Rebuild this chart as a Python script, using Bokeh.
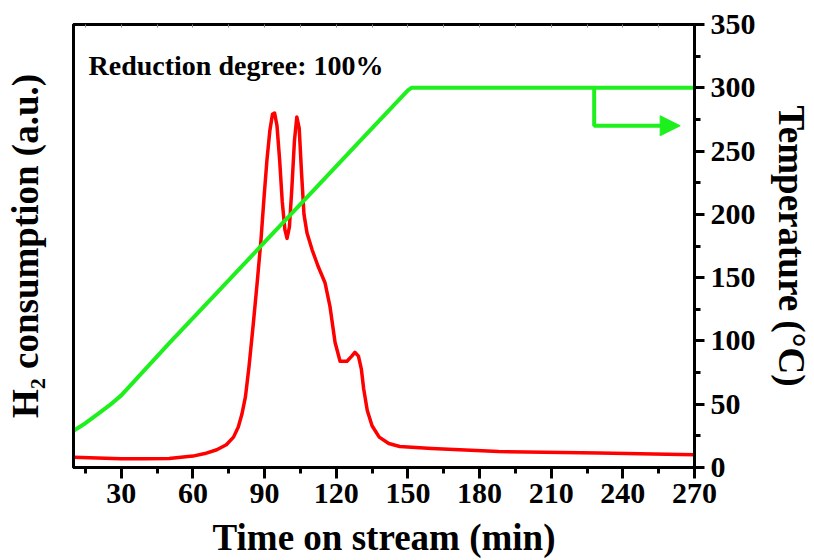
from bokeh.plotting import figure
from bokeh.models import Range1d, LinearAxis, SingleIntervalTicker, FixedTicker, Label, Arrow, NormalHead
from bokeh.embed import file_html
from bokeh.resources import INLINE

# H2 consumption (a.u.) vs time on stream (min)
time_h2 = [10, 20, 30, 40, 50, 60, 65, 70, 74, 77, 79, 80.5, 82, 83.5, 85.3, 87, 88.5, 89.8, 91, 92.2,
           93.3, 94.2, 95.2, 96.3, 97.4, 98.5, 99.4, 100.4, 101.4, 102.5, 103.5, 104.5, 105.5,
           106.5, 107.8, 109.9, 112.4, 115.3, 117.4, 119.5, 121.6, 124.5, 126.5, 127.8, 129.3,
           130.5, 131.5, 133, 135, 138, 142, 146.6, 160, 188, 230, 270]
h2 = [8, 7.5, 7, 7, 7.2, 9, 11, 14, 18, 24, 32, 42, 56, 80, 114, 148, 180, 214, 243, 266,
      279, 280, 270, 243, 210, 188, 181, 190, 220, 258, 277, 268, 232,
      200, 185, 172, 159, 146, 127, 99, 84, 84, 88, 91, 88,
      78, 62, 45, 33, 24, 19, 16.6, 15, 12.6, 11.5, 10]

# Temperature (°C) vs time on stream (min)
time_temp = [10, 15, 20, 25, 30, 50, 70, 90, 110, 130, 150, 151.5, 270]
temp = [29, 35, 42, 49, 57, 98, 138, 178, 218, 258, 298, 300, 300]

# axis-direction arrow for the temperature curve
arrow_x0, arrow_x1 = 228, 264
arrow_y0, arrow_y1 = 300, 270

title_text = "Reduction degree: 100%"
FONT = "Liberation Serif"
GREEN = "#1ef01e"
RED = "#ff0000"

p = figure(width=814, height=560, output_backend="svg", toolbar_location=None,
           x_range=Range1d(10, 270), y_range=Range1d(0, 350),
           min_border_left=73, min_border_right=119, min_border_top=24, min_border_bottom=92)
p.extra_y_ranges = {"temp": Range1d(0, 350)}
p.grid.visible = False
p.outline_line_color = "black"
p.outline_line_width = 3
p.background_fill_color = "white"
p.border_fill_color = "white"

# bottom axis
xa = p.xaxis[0]
xa.ticker = SingleIntervalTicker(interval=30, num_minor_ticks=2)
xa.axis_line_width = 3
xa.major_tick_line_width = 3
xa.minor_tick_line_width = 3
xa.major_tick_in = 0
xa.major_tick_out = 11
xa.minor_tick_in = 0
xa.minor_tick_out = 6
xa.major_label_text_font = FONT
xa.major_label_text_font_style = "bold"
xa.major_label_text_font_size = "30px"
xa.major_label_text_color = "black"
xa.axis_label = "Time on stream (min)"
xa.axis_label_text_font = FONT
xa.axis_label_text_font_style = "bold"
xa.axis_label_text_font_size = "37px"
xa.axis_label_text_color = "black"
xa.axis_label_standoff = 11
xa.major_label_standoff = 5

# left axis (no ticks)
ya = p.yaxis[0]
ya.ticker = FixedTicker(ticks=[])
ya.axis_line_width = 3
ya.major_tick_line_color = None
ya.minor_tick_line_color = None
ya.axis_label = "H\u2082 consumption (a.u.)"
ya.axis_label_text_font = FONT
ya.axis_label_text_font_style = "bold"
ya.axis_label_text_font_size = "37px"
ya.axis_label_text_color = "black"
ya.axis_label_standoff = 28

# right axis
ra = LinearAxis(y_range_name="temp", ticker=SingleIntervalTicker(interval=50, num_minor_ticks=2))
ra.axis_line_width = 3
ra.major_tick_line_width = 3
ra.minor_tick_line_width = 3
ra.major_tick_in = 0
ra.major_tick_out = 10
ra.minor_tick_in = 0
ra.minor_tick_out = 6
ra.major_label_text_font = FONT
ra.major_label_text_font_style = "bold"
ra.major_label_text_font_size = "30px"
ra.major_label_text_color = "black"
ra.major_label_standoff = 6
ra.axis_label = "Temperature (\u00b0C)"
ra.axis_label_text_font = FONT
ra.axis_label_text_font_style = "bold"
ra.axis_label_text_font_size = "37px"
ra.axis_label_text_color = "black"
ra.axis_label_standoff = 12
p.add_layout(ra, "right")

# top axis (small inward ticks, no labels)
ta = LinearAxis(ticker=SingleIntervalTicker(interval=15, num_minor_ticks=0))
ta.axis_line_width = 3
ta.major_tick_in = 3
ta.major_tick_out = 0
ta.major_tick_line_width = 1
ta.major_tick_line_color = "#888888"
ta.major_label_text_font_size = "0px"
ta.major_label_text_color = None
p.add_layout(ta, "above")

p.line(time_h2, h2, line_color=RED, line_width=3.5, line_join="round")
p.line(time_temp, temp, line_color=GREEN, line_width=4, y_range_name="temp")

# arrow
p.line([arrow_x0, arrow_x0, arrow_x1 - 6], [arrow_y0, arrow_y1, arrow_y1], line_color=GREEN,
       line_width=4, y_range_name="temp")
p.add_layout(Arrow(end=NormalHead(size=20, fill_color=GREEN, line_color=GREEN),
                   x_start=arrow_x1 - 8, y_start=arrow_y1, x_end=arrow_x1, y_end=arrow_y1,
                   line_color=GREEN, line_width=4, y_range_name="temp"))

p.add_layout(Label(x=16.3, y=318, text=title_text, text_font=FONT, text_font_style="bold",
                   text_font_size="28px", text_color="black", text_baseline="middle",
                   y_range_name="temp"))

open("out.html", "w").write(file_html(p, INLINE))
